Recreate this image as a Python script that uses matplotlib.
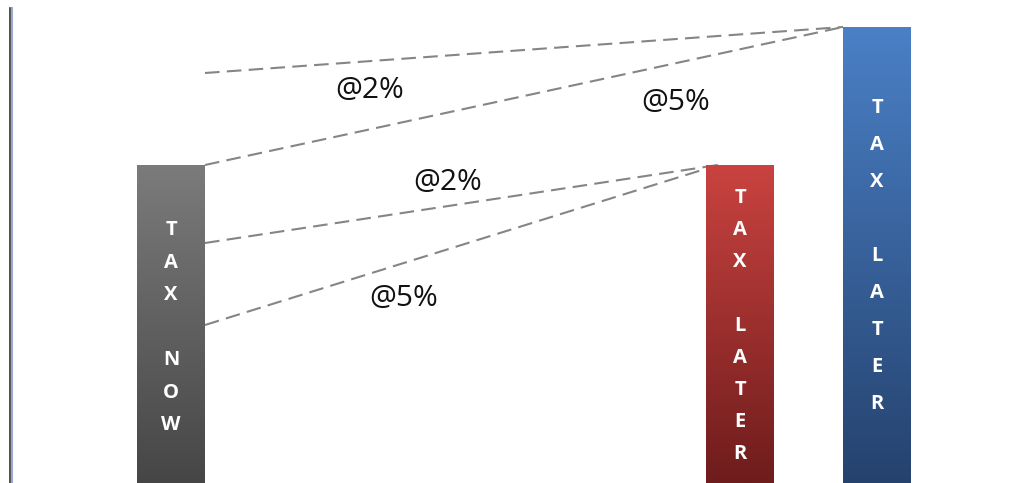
import numpy as np
import matplotlib.pyplot as plt
from matplotlib.colors import LinearSegmentedColormap
from matplotlib.lines import Line2D

# bar data (height above the bottom edge, px-like units)
bar_names = ["TAX NOW", "TAX LATER @2%", "TAX LATER @5%"]
bar_centers = [171, 740, 877]
bar_heights = [318, 318, 456]
bar_letters = [["T", "A", "X", "", "N", "O", "W"],
               ["T", "A", "X", "", "L", "A", "T", "E", "R"],
               ["T", "A", "X", "", "L", "A", "T", "E", "R"]]
letter_top = [253, 285, 375]
letter_step = [32.5, 32, 37]
bar_colors = [("#7b7b7b", "#464646"), ("#c94340", "#6e1c1c"), ("#4a80c6", "#25426e")]

# growth lines: start height at left bar -> end height at target
line_start = [410, 318, 240, 158]
line_end = [456, 456, 318, 318]
line_end_x = [843, 843, 718, 718]
rate_labels = ["@2%", "@5%", "@2%", "@5%"]
label_pos = [(370, 392), (676, 380), (448, 300), (404, 185)]

W, H = 1026, 483
fig = plt.figure(figsize=(W / 100, H / 100), dpi=100)
ax = fig.add_axes([0, 0, 1, 1])
ax.set_xlim(0, W)
ax.set_ylim(0, H)
ax.axis("off")

bw = 68
for cx, h, (c1, c2), letters, top, step in zip(bar_centers, bar_heights, bar_colors,
                                               bar_letters, letter_top, letter_step):
    cmap = LinearSegmentedColormap.from_list("g", [c2, c1])
    grad = np.linspace(0, 1, 256).reshape(-1, 1)
    ax.imshow(grad, cmap=cmap, origin="lower", aspect="auto",
              extent=[cx - bw / 2, cx + bw / 2, 0, h], zorder=2)
    for i, ch in enumerate(letters):
        if ch:
            ax.text(cx, top - i * step, ch, color="white", fontsize=14.5, fontweight="bold",
                    family="Open Sans", ha="center", va="center", zorder=3)

x0 = bar_centers[0] + bw / 2
for ys, ye, xe in zip(line_start, line_end, line_end_x):
    ax.plot([x0, xe], [ys, ye], color="#858585", lw=1.5, ls=(0, (7, 3.5)), zorder=1)

for (lx, ly), t in zip(label_pos, rate_labels):
    ax.text(lx, ly, t, fontsize=21.5, family="Open Sans", ha="center", va="center", color="#111111")

fig.add_artist(Line2D([9.5 / W, 9.5 / W], [0, 1 - 8 / H], color="#333333", lw=1.2))
fig.add_artist(Line2D([11.5 / W, 11.5 / W], [0, 1 - 8 / H], color="#9aaad0", lw=1.5))

fig.savefig("out.png", dpi=100, facecolor="white")
